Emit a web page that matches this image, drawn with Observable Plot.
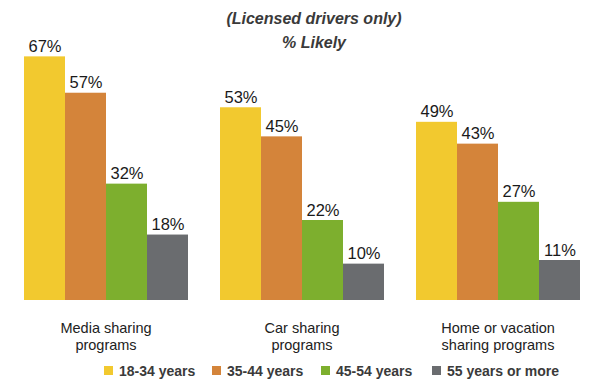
<!DOCTYPE html>
<html>
<head>
<meta charset="utf-8">
<script src="https://cdn.jsdelivr.net/npm/d3@7"></script>
<script src="https://cdn.jsdelivr.net/npm/@observablehq/plot@0.6"></script>
<style>
  body { margin: 0; background: #fff; font-family: "Liberation Sans", Arial, sans-serif; }
  #wrap { position: relative; width: 600px; height: 383px; overflow: hidden; }
  #title { position: absolute; left: 14px; width: 600px; top: 7px; text-align: center; font-weight: bold; font-style: italic; font-size: 16px; line-height: 24px; color: #3a3a3a; }
  #legend { position: absolute; top: 362px; left: 0; width: 600px; height: 20px; font-weight: bold; font-size: 14px; color: #3a3a3a; }
  .item { position: absolute; top: 0; line-height: 18px; white-space: nowrap; }
  .sw { display: inline-block; width: 9px; height: 9px; margin-right: 6px; vertical-align: 1px; }
  svg { position: absolute; top: 0; left: 0; }
</style>
</head>
<body>
<div id="wrap">
  <div id="chart"></div>
  <div id="title">(Licensed drivers only)<br>% Likely</div>
  <div id="legend"></div>
</div>
<script>
const categories = ["Media sharing\nprograms", "Car sharing\nprograms", "Home or vacation\nsharing programs"];
const ageGroups = ["18-34 years", "35-44 years", "45-54 years", "55 years or more"];
const colors = ["#F2C92F", "#D4843A", "#7DAF2E", "#6A6C6F"];
const age18_34 = [67, 53, 49];
const age35_44 = [57, 45, 43];
const age45_54 = [32, 22, 27];
const age55plus = [18, 10, 11];
const legendX = [104, 212, 321, 432];

const series = [age18_34, age35_44, age45_54, age55plus];
const data = [];
categories.forEach((c, i) => {
  ageGroups.forEach((g, j) => data.push({category: c, group: g, value: series[j][i]}));
});

const chart = Plot.plot({
  width: 600,
  height: 355,
  marginTop: 20,
  marginBottom: 55,
  marginLeft: 22,
  marginRight: 20,
  style: {fontFamily: "'Liberation Sans', Arial, sans-serif", background: "transparent"},
  fx: {domain: categories, paddingInner: 0.16, paddingOuter: 0, label: null, axis: null},
  x: {domain: ageGroups, padding: 0, axis: null},
  y: {domain: [0, 77], axis: null},
  color: {domain: ageGroups, range: colors},
  marks: [
    Plot.barY(data, {fx: "category", x: "group", y: "value", fill: "group", inset: 0}),
    Plot.text(data, {fx: "category", x: "group", y: "value", text: d => d.value + "%", lineAnchor: "bottom", dy: -5, fontSize: 16.5, fill: "#1a1a1a"}),
    Plot.text(categories, {fx: d => d, text: d => d, frameAnchor: "bottom", lineAnchor: "top", dy: 20, fontSize: 14.5, lineHeight: 1.2, fill: "#222"})
  ]
});
document.getElementById("chart").appendChild(chart);

const legend = document.getElementById("legend");
ageGroups.forEach((g, i) => {
  const el = document.createElement("div");
  el.className = "item";
  el.style.left = legendX[i] + "px";
  el.innerHTML = `<span class="sw" style="background:${colors[i]}"></span>${g}`;
  legend.appendChild(el);
});
</script>
</body>
</html>
